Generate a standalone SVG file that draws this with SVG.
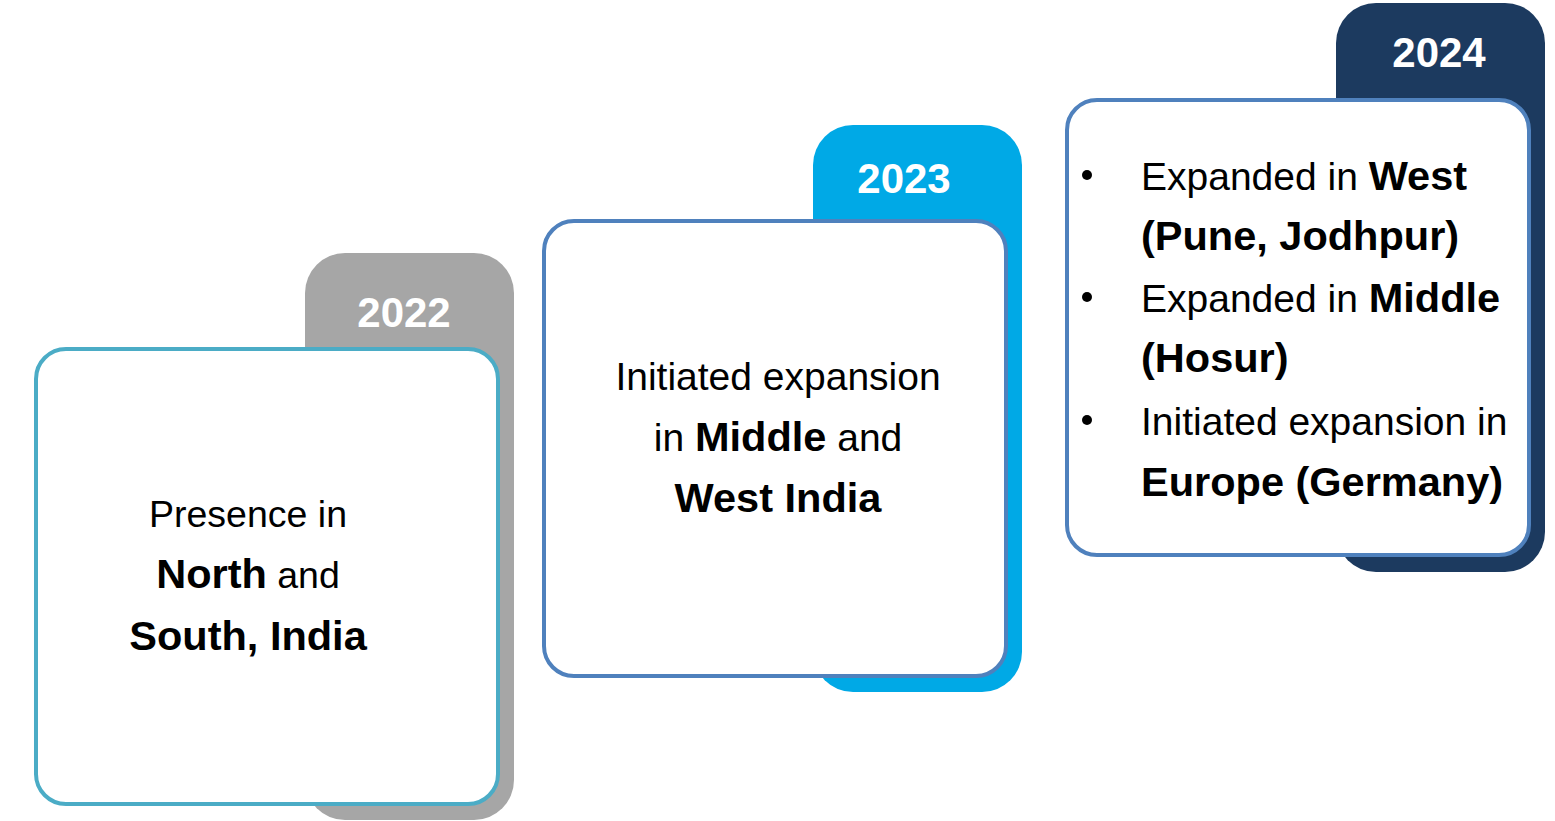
<svg xmlns="http://www.w3.org/2000/svg" width="1555" height="821" viewBox="0 0 1555 821">
<style>
.back{stroke:none}
.card{fill:#ffffff;stroke-width:4}
.year{font-family:"Liberation Sans",Arial,sans-serif;font-weight:bold;font-size:42px;fill:#ffffff;text-anchor:middle}
.body{font-family:"Liberation Sans",Arial,sans-serif;font-size:39px;fill:#000000}
.c{text-anchor:middle}
.b{font-weight:bold;font-size:41.5px}
</style>
<rect width="1555" height="821" fill="#ffffff"/>
<g id="node-2022">
<rect class="back" x="305" y="253" width="209" height="567" rx="40" fill="#A6A6A6"/>
<text class="year" x="404" y="327">2022</text>
<rect class="card" x="36" y="349" width="462" height="455" rx="30" stroke="#4BACC6"/>
<text class="body c" x="248" y="527" style="font-size:37.5px">Presence in</text>
<text class="body c" x="248" y="588" style="font-size:37.5px"><tspan class="b">North</tspan> and</text>
<text class="body c b" x="248" y="650">South, India</text>
</g>
<g id="node-2023">
<rect class="back" x="813" y="125" width="209" height="567" rx="40" fill="#00A9E6"/>
<text class="year" x="904" y="193">2023</text>
<rect class="card" x="544" y="221" width="462" height="455" rx="30" stroke="#4F81BD"/>
<text class="body c" x="778" y="390">Initiated expansion</text>
<text class="body c" x="778" y="451">in <tspan class="b">Middle</tspan> and</text>
<text class="body c b" x="778" y="512">West India</text>
</g>
<g id="node-2024">
<rect class="back" x="1336" y="3" width="209" height="569" rx="40" fill="#1C3A5F"/>
<text class="year" x="1439" y="67">2024</text>
<rect class="card" x="1067" y="100" width="462" height="455" rx="30" stroke="#4F81BD"/>
<circle cx="1087" cy="175" r="5" fill="#000"/>
<circle cx="1087" cy="297" r="5" fill="#000"/>
<circle cx="1087" cy="420" r="5" fill="#000"/>
<text class="body" x="1141" y="190">Expanded in <tspan class="b">West</tspan></text>
<text class="body b" x="1141" y="250">(Pune, Jodhpur)</text>
<text class="body" x="1141" y="312">Expanded in <tspan class="b">Middle</tspan></text>
<text class="body b" x="1141" y="372">(Hosur)</text>
<text class="body" x="1141" y="435">Initiated expansion in</text>
<text class="body b" x="1141" y="496">Europe (Germany)</text>
</g>
<g id="connectors"></g>
</svg>
